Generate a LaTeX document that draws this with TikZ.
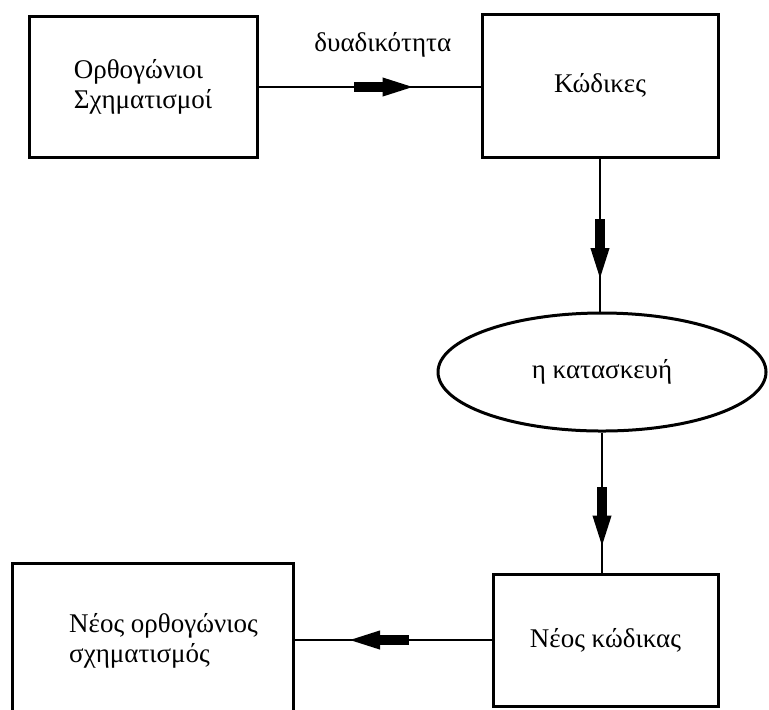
\documentclass[tikz,border=0pt]{standalone}
\usepackage{fontspec}
\setmainfont{Liberation Serif}
\usetikzlibrary{shapes.geometric,decorations.markings}

\begin{document}
\begin{tikzpicture}[x=0.5pt,y=-0.5pt,
  every node/.style={font=\fontsize{13.5}{15}\selectfont},
  box/.style={draw,line width=1.5pt,align=left,inner sep=0pt},
  flow/.style={line width=1pt,postaction={decorate},
    decoration={markings,mark=at position 0.5 with {
      \fill (-8pt,-2.6pt) rectangle (7pt,2.6pt);
      \fill (6.5pt,4.8pt) -- (21.5pt,0pt) -- (6.5pt,-4.8pt) -- cycle;}}}]
\useasboundingbox (0,0) rectangle (769,709);

\node[box,minimum width=114pt,minimum height=70.5pt] (orth) at (143,87) {Ορθογώνιοι\\Σχηματισμοί};
\node[box,minimum width=118pt,minimum height=71.5pt] (kod) at (600,85.5) {Κώδικες};
\node[draw,ellipse,line width=1.5pt,minimum width=164pt,minimum height=59pt,inner sep=0pt] (kat) at (602,372) {η κατασκευή};
\node[box,minimum width=112.5pt,minimum height=66pt] (neok) at (605.5,640) {Νέος κώδικας};
\node[box,minimum width=140.5pt,minimum height=78pt] (neoo) at (152.5,641) {\hspace*{11pt}Νέος ορθογώνιος\\\hspace*{11pt}σχηματισμός};

\draw[flow] (orth.east) -- node[pos=0.56,above=11pt] (dual) {δυαδικότητα} (orth.east -| kod.west);
\draw[flow] (kod.south) -- (kod.south |- kat.north);
\draw[flow] (kat.south) -- (kat.south |- neok.north);
\draw[flow] (neok.west) -- (neok.west -| neoo.east);
\end{tikzpicture}
\end{document}
